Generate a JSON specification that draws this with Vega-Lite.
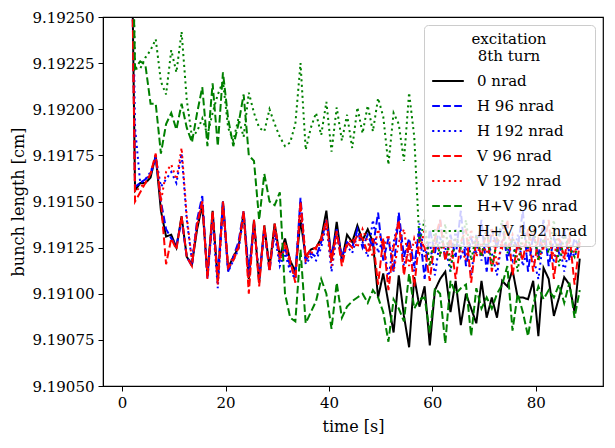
{
  "$schema": "https://vega.github.io/schema/vega-lite/v6.json",
  "description": "Bunch length against time for different excitations at the 8th turn.",
  "width": 500,
  "height": 369,
  "autosize": "none",
  "padding": {"left": 103, "top": 17, "right": 12, "bottom": 62},
  "config": {
    "view": {"stroke": "black", "strokeWidth": 1.2},
    "font": "DejaVu Serif",
    "axis": {
      "labelFont": "DejaVu Serif", "labelFontSize": 15, "labelColor": "black",
      "titleFont": "DejaVu Serif", "titleFontSize": 16, "titleFontWeight": "normal", "titleColor": "black",
      "domainColor": "black", "tickColor": "black", "tickSize": 5, "grid": false, "labelPadding": 4
    },
    "legend": {
      "orient": "top-right", "offset": 8, "padding": 7, "rowPadding": -3,
      "fillColor": "rgba(255,255,255,0.8)", "strokeColor": "#cccccc", "cornerRadius": 4,
      "labelFont": "DejaVu Serif", "labelFontSize": 15, "labelColor": "black",
      "titleFont": "DejaVu Serif", "titleFontSize": 15, "titleFontWeight": "normal", "titleColor": "black",
      "titleAnchor": "middle", "titleAlign": "center", "titleLineHeight": 17, "titlePadding": 0,
      "symbolType": "stroke", "symbolSize": 1000, "symbolStrokeWidth": 2, "labelOffset": 12, "symbolOffset": 0
    }
  },
  "data": {
    "values": [
      {"t": 1.6, "n0": 9.1935, "h96": 9.1935, "h192": 9.1935, "v96": 9.1935, "v192": 9.1935, "hv96": 9.1935, "hv192": 9.1935},
      {"t": 2.5, "n0": 9.19156, "h96": 9.19158, "h192": 9.19190, "v96": 9.19150, "v192": 9.19155, "hv96": 9.19222, "hv192": 9.19222},
      {"t": 3.5, "n0": 9.19160, "h96": 9.19160, "h192": 9.19160, "v96": 9.19155, "v192": 9.19158, "hv96": 9.19226, "hv192": 9.19222},
      {"t": 4.5, "n0": 9.19160, "h96": 9.19162, "h192": 9.19162, "v96": 9.19160, "v192": 9.19160, "hv96": 9.19224, "hv192": 9.19228},
      {"t": 5.5, "n0": 9.19163, "h96": 9.19165, "h192": 9.19166, "v96": 9.19165, "v192": 9.19165, "hv96": 9.19203, "hv192": 9.19232},
      {"t": 6.5, "n0": 9.19175, "h96": 9.19174, "h192": 9.19174, "v96": 9.19176, "v192": 9.19175, "hv96": 9.19203, "hv192": 9.19238},
      {"t": 7.5, "n0": 9.19145, "h96": 9.19150, "h192": 9.19158, "v96": 9.19150, "v192": 9.19150, "hv96": 9.19176, "hv192": 9.19215},
      {"t": 8.5, "n0": 9.19131, "h96": 9.19135, "h192": 9.19162, "v96": 9.19116, "v192": 9.19166, "hv96": 9.19192, "hv192": 9.19208},
      {"t": 9.5, "n0": 9.19132, "h96": 9.19130, "h192": 9.19166, "v96": 9.19130, "v192": 9.19170, "hv96": 9.19198, "hv192": 9.19232},
      {"t": 10.5, "n0": 9.19125, "h96": 9.19126, "h192": 9.19160, "v96": 9.19124, "v192": 9.19162, "hv96": 9.19189, "hv192": 9.19220},
      {"t": 11.5, "n0": 9.19142, "h96": 9.19140, "h192": 9.19176, "v96": 9.19142, "v192": 9.19179, "hv96": 9.19203, "hv192": 9.19242},
      {"t": 12.5, "n0": 9.19120, "h96": 9.19120, "h192": 9.19140, "v96": 9.19120, "v192": 9.19142, "hv96": 9.19190, "hv192": 9.19205},
      {"t": 13.5, "n0": 9.19116, "h96": 9.19115, "h192": 9.19118, "v96": 9.19115, "v192": 9.19118, "hv96": 9.19182, "hv192": 9.19185},
      {"t": 14.5, "n0": 9.19135, "h96": 9.19140, "h192": 9.19138, "v96": 9.19138, "v192": 9.19136, "hv96": 9.19198, "hv192": 9.19188},
      {"t": 15.5, "n0": 9.19148, "h96": 9.19153, "h192": 9.19150, "v96": 9.19150, "v192": 9.19150, "hv96": 9.19212, "hv192": 9.19195},
      {"t": 16.5, "n0": 9.19110, "h96": 9.19108, "h192": 9.19110, "v96": 9.19108, "v192": 9.19110, "hv96": 9.19180, "hv192": 9.19186},
      {"t": 17.5, "n0": 9.19145, "h96": 9.19142, "h192": 9.19140, "v96": 9.19145, "v192": 9.19143, "hv96": 9.19214, "hv192": 9.19198},
      {"t": 18.5, "n0": 9.19107, "h96": 9.19110, "h192": 9.19103, "v96": 9.19105, "v192": 9.19108, "hv96": 9.19180, "hv192": 9.19208},
      {"t": 19.5, "n0": 9.19150, "h96": 9.19150, "h192": 9.19148, "v96": 9.19150, "v192": 9.19148, "hv96": 9.19220, "hv192": 9.19215},
      {"t": 20.5, "n0": 9.19114, "h96": 9.19112, "h192": 9.19112, "v96": 9.19114, "v192": 9.19115, "hv96": 9.19195, "hv192": 9.19190},
      {"t": 21.5, "n0": 9.19120, "h96": 9.19120, "h192": 9.19118, "v96": 9.19118, "v192": 9.19120, "hv96": 9.19180, "hv192": 9.19183},
      {"t": 22.5, "n0": 9.19125, "h96": 9.19128, "h192": 9.19124, "v96": 9.19125, "v192": 9.19126, "hv96": 9.19192, "hv192": 9.19195},
      {"t": 23.5, "n0": 9.19144, "h96": 9.19145, "h192": 9.19142, "v96": 9.19145, "v192": 9.19143, "hv96": 9.19208, "hv192": 9.19185},
      {"t": 24.5, "n0": 9.19108, "h96": 9.19110, "h192": 9.19112, "v96": 9.19100, "v192": 9.19105, "hv96": 9.19175, "hv192": 9.19209},
      {"t": 25.5, "n0": 9.19140, "h96": 9.19138, "h192": 9.19136, "v96": 9.19140, "v192": 9.19138, "hv96": 9.19172, "hv192": 9.19198},
      {"t": 26.5, "n0": 9.19106, "h96": 9.19108, "h192": 9.19110, "v96": 9.19104, "v192": 9.19108, "hv96": 9.19140, "hv192": 9.19190},
      {"t": 27.5, "n0": 9.19137, "h96": 9.19135, "h192": 9.19134, "v96": 9.19137, "v192": 9.19135, "hv96": 9.19165, "hv192": 9.19188},
      {"t": 28.5, "n0": 9.19114, "h96": 9.19112, "h192": 9.19115, "v96": 9.19112, "v192": 9.19114, "hv96": 9.19150, "hv192": 9.19200},
      {"t": 29.5, "n0": 9.19138, "h96": 9.19135, "h192": 9.19132, "v96": 9.19138, "v192": 9.19136, "hv96": 9.19148, "hv192": 9.19192},
      {"t": 30.5, "n0": 9.19120, "h96": 9.19118, "h192": 9.19115, "v96": 9.19120, "v192": 9.19118, "hv96": 9.19155, "hv192": 9.19185},
      {"t": 31.5, "n0": 9.19130, "h96": 9.19125, "h192": 9.19122, "v96": 9.19128, "v192": 9.19125, "hv96": 9.19100, "hv192": 9.19180},
      {"t": 32.5, "n0": 9.19118, "h96": 9.19115, "h192": 9.19112, "v96": 9.19118, "v192": 9.19116, "hv96": 9.19087, "hv192": 9.19182},
      {"t": 33.5, "n0": 9.19112, "h96": 9.19110, "h192": 9.19108, "v96": 9.19106, "v192": 9.19110, "hv96": 9.19085, "hv192": 9.19192},
      {"t": 34.5, "n0": 9.19140, "h96": 9.19152, "h192": 9.19150, "v96": 9.19150, "v192": 9.19148, "hv96": 9.19124, "hv192": 9.19225},
      {"t": 35.5, "n0": 9.19120, "h96": 9.19118, "h192": 9.19116, "v96": 9.19120, "v192": 9.19118, "hv96": 9.19084, "hv192": 9.19178},
      {"t": 36.5, "n0": 9.19124, "h96": 9.19122, "h192": 9.19120, "v96": 9.19124, "v192": 9.19122, "hv96": 9.19090, "hv192": 9.19190},
      {"t": 37.5, "n0": 9.19125, "h96": 9.19120, "h192": 9.19118, "v96": 9.19125, "v192": 9.19124, "hv96": 9.19096, "hv192": 9.19198},
      {"t": 38.5, "n0": 9.19130, "h96": 9.19128, "h192": 9.19125, "v96": 9.19130, "v192": 9.19128, "hv96": 9.19108, "hv192": 9.19186},
      {"t": 39.5, "n0": 9.19145, "h96": 9.19140, "h192": 9.19138, "v96": 9.19140, "v192": 9.19138, "hv96": 9.19100, "hv192": 9.19204},
      {"t": 40.5, "n0": 9.19118, "h96": 9.19120, "h192": 9.19112, "v96": 9.19118, "v192": 9.19115, "hv96": 9.19081, "hv192": 9.19177},
      {"t": 41.5, "n0": 9.19139, "h96": 9.19135, "h192": 9.19132, "v96": 9.19134, "v192": 9.19132, "hv96": 9.19106, "hv192": 9.19201},
      {"t": 42.5, "n0": 9.19118, "h96": 9.19120, "h192": 9.19118, "v96": 9.19115, "v192": 9.19120, "hv96": 9.19087, "hv192": 9.19183},
      {"t": 43.5, "n0": 9.19132, "h96": 9.19128, "h192": 9.19126, "v96": 9.19128, "v192": 9.19126, "hv96": 9.19093, "hv192": 9.19197},
      {"t": 44.5, "n0": 9.19128, "h96": 9.19125, "h192": 9.19122, "v96": 9.19125, "v192": 9.19130, "hv96": 9.19096, "hv192": 9.19179},
      {"t": 45.5, "n0": 9.19137, "h96": 9.19135, "h192": 9.19132, "v96": 9.19132, "v192": 9.19125, "hv96": 9.19098, "hv192": 9.19201},
      {"t": 46.5, "n0": 9.19129, "h96": 9.19125, "h192": 9.19128, "v96": 9.19130, "v192": 9.19135, "hv96": 9.19100, "hv192": 9.19187},
      {"t": 47.5, "n0": 9.19135, "h96": 9.19132, "h192": 9.19120, "v96": 9.19122, "v192": 9.19128, "hv96": 9.19095, "hv192": 9.19202},
      {"t": 48.5, "n0": 9.19128, "h96": 9.19125, "h192": 9.19140, "v96": 9.19130, "v192": 9.19120, "hv96": 9.19102, "hv192": 9.19188},
      {"t": 49.5, "n0": 9.19098, "h96": 9.19144, "h192": 9.19122, "v96": 9.19105, "v192": 9.19135, "hv96": 9.19098, "hv192": 9.19206},
      {"t": 50.5, "n0": 9.19111, "h96": 9.19118, "h192": 9.19130, "v96": 9.19130, "v192": 9.19125, "hv96": 9.19090, "hv192": 9.19196},
      {"t": 51.5, "n0": 9.19095, "h96": 9.19130, "h192": 9.19108, "v96": 9.19102, "v192": 9.19132, "hv96": 9.19074, "hv192": 9.19170},
      {"t": 52.5, "n0": 9.19079, "h96": 9.19112, "h192": 9.19128, "v96": 9.19125, "v192": 9.19112, "hv96": 9.19097, "hv192": 9.19198},
      {"t": 53.5, "n0": 9.19110, "h96": 9.19144, "h192": 9.19140, "v96": 9.19140, "v192": 9.19128, "hv96": 9.19092, "hv192": 9.19192},
      {"t": 54.5, "n0": 9.19088, "h96": 9.19120, "h192": 9.19115, "v96": 9.19110, "v192": 9.19135, "hv96": 9.19085, "hv192": 9.19172},
      {"t": 55.5, "n0": 9.19071, "h96": 9.19130, "h192": 9.19125, "v96": 9.19128, "v192": 9.19115, "hv96": 9.19111, "hv192": 9.19209},
      {"t": 56.5, "n0": 9.19109, "h96": 9.19115, "h192": 9.19112, "v96": 9.19104, "v192": 9.19130, "hv96": 9.19092, "hv192": 9.19185},
      {"t": 57.5, "n0": 9.19093, "h96": 9.19135, "h192": 9.19138, "v96": 9.19130, "v192": 9.19122, "hv96": 9.19097, "hv192": 9.19128},
      {"t": 58.5, "n0": 9.19104, "h96": 9.19108, "h192": 9.19120, "v96": 9.19125, "v192": 9.19135, "hv96": 9.19098, "hv192": 9.19140},
      {"t": 59.5, "n0": 9.19072, "h96": 9.19135, "h192": 9.19128, "v96": 9.19107, "v192": 9.19115, "hv96": 9.19079, "hv192": 9.19115},
      {"t": 60.5, "n0": 9.19102, "h96": 9.19122, "h192": 9.19110, "v96": 9.19130, "v192": 9.19128, "hv96": 9.19103, "hv192": 9.19135},
      {"t": 61.5, "n0": 9.19108, "h96": 9.19140, "h192": 9.19130, "v96": 9.19140, "v192": 9.19122, "hv96": 9.19100, "hv192": 9.19120},
      {"t": 62.5, "n0": 9.19112, "h96": 9.19118, "h192": 9.19125, "v96": 9.19118, "v192": 9.19135, "hv96": 9.19073, "hv192": 9.19138},
      {"t": 63.5, "n0": 9.19090, "h96": 9.19132, "h192": 9.19112, "v96": 9.19130, "v192": 9.19118, "hv96": 9.19107, "hv192": 9.19112},
      {"t": 64.5, "n0": 9.19107, "h96": 9.19120, "h192": 9.19135, "v96": 9.19108, "v192": 9.19130, "hv96": 9.19100, "hv192": 9.19130},
      {"t": 65.5, "n0": 9.19083, "h96": 9.19145, "h192": 9.19120, "v96": 9.19128, "v192": 9.19125, "hv96": 9.19103, "hv192": 9.19125},
      {"t": 66.5, "n0": 9.19100, "h96": 9.19115, "h192": 9.19126, "v96": 9.19135, "v192": 9.19118, "hv96": 9.19105, "hv192": 9.19140},
      {"t": 67.5, "n0": 9.19092, "h96": 9.19130, "h192": 9.19110, "v96": 9.19106, "v192": 9.19135, "hv96": 9.19077, "hv192": 9.19118},
      {"t": 68.5, "n0": 9.19084, "h96": 9.19122, "h192": 9.19132, "v96": 9.19130, "v192": 9.19120, "hv96": 9.19103, "hv192": 9.19132},
      {"t": 69.5, "n0": 9.19107, "h96": 9.19140, "h192": 9.19118, "v96": 9.19120, "v192": 9.19128, "hv96": 9.19092, "hv192": 9.19120},
      {"t": 70.5, "n0": 9.19087, "h96": 9.19112, "h192": 9.19128, "v96": 9.19135, "v192": 9.19122, "hv96": 9.19098, "hv192": 9.19136},
      {"t": 71.5, "n0": 9.19098, "h96": 9.19135, "h192": 9.19122, "v96": 9.19112, "v192": 9.19136, "hv96": 9.19092, "hv192": 9.19115},
      {"t": 72.5, "n0": 9.19087, "h96": 9.19125, "h192": 9.19110, "v96": 9.19130, "v192": 9.19115, "hv96": 9.19100, "hv192": 9.19128},
      {"t": 73.5, "n0": 9.19107, "h96": 9.19138, "h192": 9.19130, "v96": 9.19125, "v192": 9.19128, "hv96": 9.19105, "hv192": 9.19140},
      {"t": 74.5, "n0": 9.19104, "h96": 9.19118, "h192": 9.19125, "v96": 9.19140, "v192": 9.19125, "hv96": 9.19115, "hv192": 9.19122},
      {"t": 75.5, "n0": 9.19113, "h96": 9.19130, "h192": 9.19118, "v96": 9.19110, "v192": 9.19132, "hv96": 9.19080, "hv192": 9.19130},
      {"t": 76.5, "n0": 9.19098, "h96": 9.19125, "h192": 9.19132, "v96": 9.19128, "v192": 9.19118, "hv96": 9.19100, "hv192": 9.19112},
      {"t": 77.5, "n0": 9.19098, "h96": 9.19145, "h192": 9.19115, "v96": 9.19118, "v192": 9.19128, "hv96": 9.19090, "hv192": 9.19135},
      {"t": 78.5, "n0": 9.19097, "h96": 9.19112, "h192": 9.19125, "v96": 9.19135, "v192": 9.19122, "hv96": 9.19077, "hv192": 9.19125},
      {"t": 79.5, "n0": 9.19107, "h96": 9.19132, "h192": 9.19120, "v96": 9.19112, "v192": 9.19135, "hv96": 9.19094, "hv192": 9.19138},
      {"t": 80.5, "n0": 9.19077, "h96": 9.19120, "h192": 9.19108, "v96": 9.19130, "v192": 9.19118, "hv96": 9.19104, "hv192": 9.19118},
      {"t": 81.5, "n0": 9.19114, "h96": 9.19140, "h192": 9.19130, "v96": 9.19125, "v192": 9.19126, "hv96": 9.19097, "hv192": 9.19130},
      {"t": 82.5, "n0": 9.19108, "h96": 9.19115, "h192": 9.19122, "v96": 9.19140, "v192": 9.19130, "hv96": 9.19102, "hv192": 9.19122},
      {"t": 83.5, "n0": 9.19088, "h96": 9.19130, "h192": 9.19118, "v96": 9.19108, "v192": 9.19120, "hv96": 9.19098, "hv192": 9.19140},
      {"t": 84.5, "n0": 9.19098, "h96": 9.19122, "h192": 9.19128, "v96": 9.19130, "v192": 9.19132, "hv96": 9.19105, "hv192": 9.19115},
      {"t": 85.5, "n0": 9.19109, "h96": 9.19135, "h192": 9.19112, "v96": 9.19120, "v192": 9.19118, "hv96": 9.19095, "hv192": 9.19132},
      {"t": 86.5, "n0": 9.19105, "h96": 9.19118, "h192": 9.19125, "v96": 9.19132, "v192": 9.19128, "hv96": 9.19106, "hv192": 9.19125},
      {"t": 87.5, "n0": 9.19090, "h96": 9.19130, "h192": 9.19120, "v96": 9.19105, "v192": 9.19122, "hv96": 9.19087, "hv192": 9.19120},
      {"t": 88.5, "n0": 9.19119, "h96": 9.19125, "h192": 9.19128, "v96": 9.19128, "v192": 9.19130, "hv96": 9.19102, "hv192": 9.19130}
    ]
  },
  "encoding": {
    "x": {
      "field": "t", "type": "quantitative", "title": "time [s]",
      "scale": {"domain": [-3.7, 93], "nice": false, "zero": false},
      "axis": {"values": [0, 20, 40, 60, 80], "format": "d", "titlePadding": 8}
    }
  },
  "layer": [
    {
      "mark": {"type": "line", "clip": true, "strokeWidth": 2, "strokeCap": "butt"},
      "encoding": {
        "y": {
          "field": "n0", "type": "quantitative", "title": "bunch length [cm]",
          "scale": {"domain": [9.1905, 9.1925], "nice": false, "zero": false},
          "axis": {"values": [9.1905, 9.19075, 9.191, 9.19125, 9.1915, 9.19175, 9.192, 9.19225, 9.1925], "format": ".5f", "titlePadding": 5}
        },
        "color": {
          "datum": "0 nrad",
          "scale": {
            "domain": ["0 nrad", "H 96 nrad", "H 192 nrad", "V 96 nrad", "V 192 nrad", "H+V 96 nrad", "H+V 192 nrad"],
            "range": ["#000000", "#0000ff", "#0000ff", "#ff0000", "#ff0000", "#008000", "#008000"]
          },
          "legend": {"title": ["excitation", "8th turn"]}
        },
        "strokeDash": {
          "datum": "0 nrad",
          "scale": {
            "domain": ["0 nrad", "H 96 nrad", "H 192 nrad", "V 96 nrad", "V 192 nrad", "H+V 96 nrad", "H+V 192 nrad"],
            "range": [[1, 0], [7.7, 3.3], [2.1, 3.4], [7.7, 3.3], [2.1, 3.4], [7.7, 3.3], [2.1, 3.4]]
          },
          "legend": {"title": ["excitation", "8th turn"]}
        }
      }
    },
    {
      "mark": {"type": "line", "clip": true, "strokeWidth": 2, "strokeCap": "butt"},
      "encoding": {
        "y": {"field": "h96", "type": "quantitative", "title": "bunch length [cm]"},
        "color": {"datum": "H 96 nrad"},
        "strokeDash": {"datum": "H 96 nrad"}
      }
    },
    {
      "mark": {"type": "line", "clip": true, "strokeWidth": 2, "strokeCap": "butt"},
      "encoding": {
        "y": {"field": "h192", "type": "quantitative", "title": "bunch length [cm]"},
        "color": {"datum": "H 192 nrad"},
        "strokeDash": {"datum": "H 192 nrad"}
      }
    },
    {
      "mark": {"type": "line", "clip": true, "strokeWidth": 2, "strokeCap": "butt"},
      "encoding": {
        "y": {"field": "v96", "type": "quantitative", "title": "bunch length [cm]"},
        "color": {"datum": "V 96 nrad"},
        "strokeDash": {"datum": "V 96 nrad"}
      }
    },
    {
      "mark": {"type": "line", "clip": true, "strokeWidth": 2, "strokeCap": "butt"},
      "encoding": {
        "y": {"field": "v192", "type": "quantitative", "title": "bunch length [cm]"},
        "color": {"datum": "V 192 nrad"},
        "strokeDash": {"datum": "V 192 nrad"}
      }
    },
    {
      "mark": {"type": "line", "clip": true, "strokeWidth": 2, "strokeCap": "butt"},
      "encoding": {
        "y": {"field": "hv96", "type": "quantitative", "title": "bunch length [cm]"},
        "color": {"datum": "H+V 96 nrad"},
        "strokeDash": {"datum": "H+V 96 nrad"}
      }
    },
    {
      "mark": {"type": "line", "clip": true, "strokeWidth": 2, "strokeCap": "butt"},
      "encoding": {
        "y": {"field": "hv192", "type": "quantitative", "title": "bunch length [cm]"},
        "color": {"datum": "H+V 192 nrad"},
        "strokeDash": {"datum": "H+V 192 nrad"}
      }
    }
  ]
}
